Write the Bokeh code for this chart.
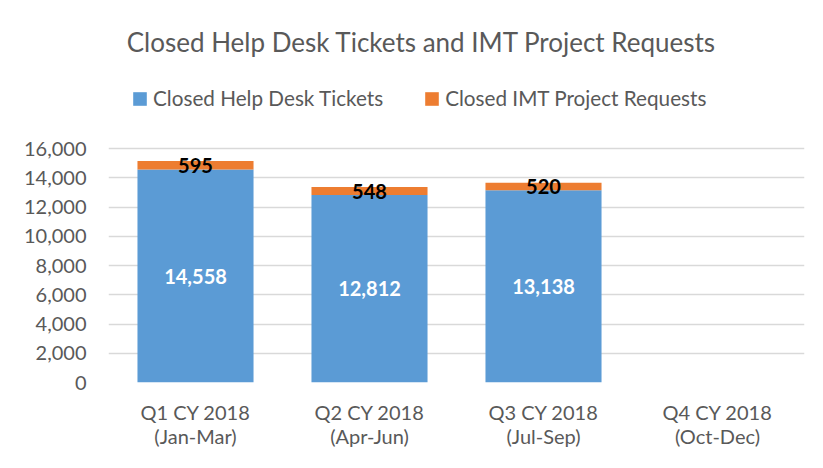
from bokeh.plotting import figure
from bokeh.models import (FactorRange, Range1d, Label, Legend, LegendItem, NumeralTickFormatter,
                          ColumnDataSource, CategoricalAxis, CustomJSTickFormatter, FixedTicker)
from bokeh.core.properties import value
from bokeh.embed import file_html
from bokeh.resources import INLINE

quarters = ["Q1 CY 2018", "Q2 CY 2018", "Q3 CY 2018", "Q4 CY 2018"]
months = ["(Jan-Mar)", "(Apr-Jun)", "(Jul-Sep)", "(Oct-Dec)"]
help_desk = [14558, 12812, 13138, 0]
imt_projects = [595, 548, 520, 0]
y_ticks = [0, 2000, 4000, 6000, 8000, 10000, 12000, 14000, 16000]
series_names = ["Closed Help Desk Tickets", "Closed IMT Project Requests"]
title_text = "Closed Help Desk Tickets and IMT Project Requests"

BLUE = "#5B9BD5"
ORANGE = "#ED7D31"
GRAY = "#595959"
FONT = "Lato"

W, H = 815, 460
TOP, BOTTOM, LEFT, RIGHT = 10, 78, 108, 11
AXIS_TOP_PX = 148          # pixel row of the 16,000 gridline
axis_max = y_ticks[-1]
# the frame extends above the axis maximum to host the title and legend
y_end = axis_max * (H - BOTTOM - TOP) / (H - BOTTOM - AXIS_TOP_PX)

src = ColumnDataSource(dict(q=quarters, hd=help_desk, imt=imt_projects))

p = figure(width=W, height=H, x_range=FactorRange(*quarters), y_range=Range1d(0, y_end),
           output_backend="svg", toolbar_location=None,
           min_border_left=LEFT, min_border_right=RIGHT, min_border_top=TOP, min_border_bottom=BOTTOM)
p.title = None
p.outline_line_color = None
p.background_fill_color = "white"
p.border_fill_color = "white"

r = p.vbar_stack(["hd", "imt"], x="q", width=0.667, source=src, color=[BLUE, ORANGE], line_color=None)

# data labels
lab_q = [q for q, h in zip(quarters, help_desk) if h > 0]
lab_hd_y = [h / 2 for h in help_desk if h > 0]
lab_hd_t = [f"{h:,}" for h in help_desk if h > 0]
lab_imt_y = [h + m / 2 for h, m in zip(help_desk, imt_projects) if h > 0]
lab_imt_t = [f"{m:,}" for h, m in zip(help_desk, imt_projects) if h > 0]
p.text(x=lab_q, y=lab_hd_y, text=lab_hd_t, text_color="white", text_font=value(FONT),
       text_font_style="bold", text_font_size="20px", text_align="center", text_baseline="middle")
p.text(x=lab_q, y=lab_imt_y, text=lab_imt_t, text_color="black", text_font=value(FONT),
       text_font_style="bold", text_font_size="20px", text_align="center", text_baseline="middle")

# axes
p.yaxis.ticker = FixedTicker(ticks=y_ticks)
p.yaxis.formatter = NumeralTickFormatter(format="0,0")
ax2 = CategoricalAxis(formatter=CustomJSTickFormatter(args=dict(q=quarters, m=months),
                                                      code="return m[q.indexOf(tick)];"))
p.add_layout(ax2, "below")
for ax in (p.xaxis[0], p.yaxis[0], ax2):
    ax.axis_line_color = None
    ax.major_tick_line_color = None
    ax.minor_tick_line_color = None
    ax.major_label_text_color = GRAY
    ax.major_label_text_font = FONT
    ax.major_label_text_font_size = "20px"
p.xaxis[0].major_label_standoff = 11
ax2.major_label_standoff = -9
p.yaxis.major_label_standoff = 16
p.xgrid.grid_line_color = None
p.ygrid.grid_line_color = "#D9D9D9"
p.ygrid.grid_line_width = 1.5

# title (placed in the upper, tick-free part of the frame)
px_per_unit = (H - BOTTOM - AXIS_TOP_PX) / axis_max
title_y = (H - BOTTOM - 41) / px_per_unit
p.add_layout(Label(x=1.8, y=title_y, x_units="data", y_units="data", text=title_text,
                   text_align="center", text_baseline="middle", text_color=GRAY,
                   text_font=FONT, text_font_size="26px"))

legend = Legend(items=[LegendItem(label=series_names[0], renderers=[r[0]]),
                       LegendItem(label=series_names[1], renderers=[r[1]])],
                orientation="horizontal", location=(23, 272), padding=0, margin=0,
                spacing=40, label_standoff=5, glyph_width=17, glyph_height=17,
                label_text_font=FONT, label_text_font_size="20.7px", label_text_color=GRAY,
                border_line_color=None, background_fill_alpha=0)
p.add_layout(legend, "center")

open("out.html", "w").write(file_html(p, INLINE))
